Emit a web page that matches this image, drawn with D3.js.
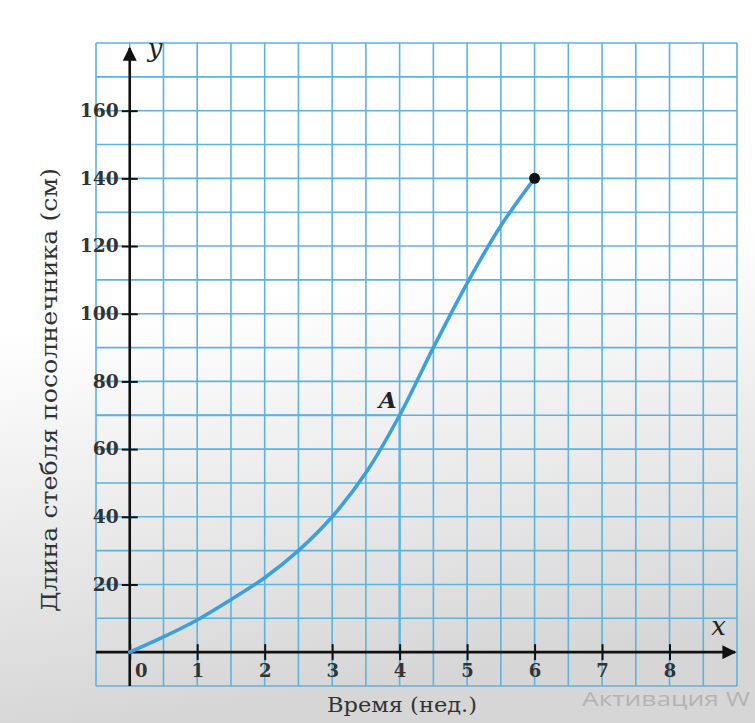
<!DOCTYPE html>
<html>
<head>
<meta charset="utf-8">
<script src="https://cdn.jsdelivr.net/npm/d3@7"></script>
<style>
  html, body { margin: 0; padding: 0; background: #fff; }
  svg { display: block; }
</style>
</head>
<body>
<div id="chart"></div>
<script>
// Chart data: stem length of a sunflower over weeks
const weeks = [0, 0.5, 1, 1.5, 2, 2.5, 3, 3.5, 4, 4.5, 5, 5.5, 6];
const lengths = [0, 4.5, 9.5, 15.5, 22, 30, 40, 53, 70, 90, 109, 126, 140];
const xTicks = [0, 1, 2, 3, 4, 5, 6, 7, 8];
const yTicks = [20, 40, 60, 80, 100, 120, 140, 160];
const pointA = { x: 4, y: 70, label: "A" };
const endPoint = { x: 6, y: 140 };

const W = 755, H = 723;

// Grid area (data domain covers the whole squared paper)
const x = d3.scaleLinear().domain([-0.5, 9]).range([96, 737]);
const y = d3.scaleLinear().domain([-10, 180]).range([686, 43]);

const gridBlue = "#5cb3e0";
const curveBlue = "#3ba0db";
const serif = "'DejaVu Serif', 'Liberation Serif', serif";

const svg = d3.select("#chart").append("svg")
    .attr("width", W)
    .attr("height", H);

// Background with the greyish shading at the bottom of the screenshot
const defs = svg.append("defs");
const bg = defs.append("linearGradient")
    .attr("id", "bg")
    .attr("x1", 0).attr("y1", 0)
    .attr("x2", 0.15).attr("y2", 1);
bg.append("stop").attr("offset", "45%").attr("stop-color", "#ffffff");
bg.append("stop").attr("offset", "100%").attr("stop-color", "#d6d6d6");

svg.append("rect")
    .attr("width", W)
    .attr("height", H)
    .attr("fill", "url(#bg)");

// Squared paper grid
const gridX = d3.range(-0.5, 9.001, 0.5);
const gridY = d3.range(-10, 180.001, 10);

svg.append("g")
    .selectAll("line")
    .data(gridX)
    .join("line")
    .attr("x1", d => x(d)).attr("x2", d => x(d))
    .attr("y1", y(180)).attr("y2", y(-10))
    .attr("stroke", gridBlue)
    .attr("stroke-width", 1.6);

svg.append("g")
    .selectAll("line")
    .data(gridY)
    .join("line")
    .attr("y1", d => y(d)).attr("y2", d => y(d))
    .attr("x1", x(-0.5)).attr("x2", x(9))
    .attr("stroke", gridBlue)
    .attr("stroke-width", 1.6);

// Guide lines to point A
svg.append("path")
    .attr("d", `M${x(-0.5)},${y(pointA.y)}H${x(pointA.x)}V${y(0)}`)
    .attr("fill", "none")
    .attr("stroke", gridBlue)
    .attr("stroke-width", 2.2);

// Arrow head for both axes
defs.append("marker")
    .attr("id", "arrow")
    .attr("viewBox", "0 0 10 10")
    .attr("refX", 9).attr("refY", 5)
    .attr("markerWidth", 20).attr("markerHeight", 14)
    .attr("markerUnits", "userSpaceOnUse")
    .attr("orient", "auto")
    .append("path")
    .attr("d", "M0,0L10,5L0,10Z")
    .attr("fill", "#111");

svg.append("line")
    .attr("x1", x(0)).attr("x2", x(0))
    .attr("y1", y(-10)).attr("y2", y(178.5))
    .attr("stroke", "#111")
    .attr("stroke-width", 2.6)
    .attr("marker-end", "url(#arrow)");

svg.append("line")
    .attr("x1", x(-0.5)).attr("x2", x(8.97))
    .attr("y1", y(0)).attr("y2", y(0))
    .attr("stroke", "#111")
    .attr("stroke-width", 2.6)
    .attr("marker-end", "url(#arrow)");

// Y axis ticks and labels
const yAxis = svg.append("g")
    .attr("transform", `translate(${x(0) - 8},0)`)
    .call(d3.axisLeft(y).tickValues(yTicks).tickSize(-16).tickPadding(3));
yAxis.select(".domain").remove();
yAxis.selectAll(".tick line").attr("stroke", "#111").attr("stroke-width", 2);
yAxis.selectAll(".tick text")
    .attr("font-family", serif)
    .attr("font-weight", "bold")
    .attr("font-size", 18)
    .attr("fill", "#333")
    .attr("textLength", d => String(d).length * 13)
    .attr("lengthAdjust", "spacingAndGlyphs");

// X axis ticks and labels
const xAxis = svg.append("g")
    .attr("transform", `translate(0,${y(0) + 8})`)
    .call(d3.axisBottom(x).tickValues(xTicks).tickSize(-16).tickPadding(4));
xAxis.select(".domain").remove();
xAxis.selectAll(".tick line").attr("stroke", "#111").attr("stroke-width", 2);
xAxis.selectAll(".tick text")
    .attr("font-family", serif)
    .attr("font-weight", "bold")
    .attr("font-size", 18)
    .attr("fill", "#333")
    .attr("dx", d => d === 0 ? 11 : 0);

// Axis letters
svg.append("text")
    .attr("x", x(0) + 18).attr("y", y(176))
    .attr("font-family", serif)
    .attr("font-style", "italic")
    .attr("font-size", 26)
    .attr("fill", "#222")
    .text("y");

svg.append("text")
    .attr("x", x(8.62)).attr("y", y(5))
    .attr("font-family", serif)
    .attr("font-style", "italic")
    .attr("font-size", 26)
    .attr("fill", "#222")
    .text("x");

// Axis titles
svg.append("text")
    .attr("transform", "translate(57,390) rotate(-90)")
    .attr("text-anchor", "middle")
    .attr("font-family", serif)
    .attr("font-size", 22)
    .attr("fill", "#333")
    .attr("textLength", 444)
    .attr("lengthAdjust", "spacingAndGlyphs")
    .text("Длина стебля посолнечника (см)");

svg.append("text")
    .attr("x", 402).attr("y", 712)
    .attr("text-anchor", "middle")
    .attr("font-family", serif)
    .attr("font-size", 21)
    .attr("fill", "#333")
    .attr("textLength", 150)
    .attr("lengthAdjust", "spacingAndGlyphs")
    .text("Время (нед.)");

// Growth curve
const line = d3.line()
    .x((d, i) => x(weeks[i]))
    .y(d => y(d))
    .curve(d3.curveCatmullRom.alpha(0.5));

svg.append("path")
    .datum(lengths)
    .attr("d", line)
    .attr("fill", "none")
    .attr("stroke", curveBlue)
    .attr("stroke-width", 3.6)
    .attr("stroke-linecap", "round");

// End point
svg.append("circle")
    .attr("cx", x(endPoint.x))
    .attr("cy", y(endPoint.y))
    .attr("r", 5.5)
    .attr("fill", "#111");

// Point A label
svg.append("text")
    .attr("x", x(pointA.x) - 3).attr("y", y(pointA.y) - 7)
    .attr("text-anchor", "end")
    .attr("font-family", serif)
    .attr("font-style", "italic")
    .attr("font-weight", "bold")
    .attr("font-size", 23)
    .attr("fill", "#222")
    .text(pointA.label);

// Screenshot watermark
svg.append("text")
    .attr("x", 582).attr("y", 706)
    .attr("font-family", "'Open Sans', 'DejaVu Sans', sans-serif")
    .attr("font-size", 20)
    .attr("fill", "#b4b4b4")
    .attr("textLength", 168)
    .attr("lengthAdjust", "spacingAndGlyphs")
    .text("Активация W");
</script>
</body>
</html>
